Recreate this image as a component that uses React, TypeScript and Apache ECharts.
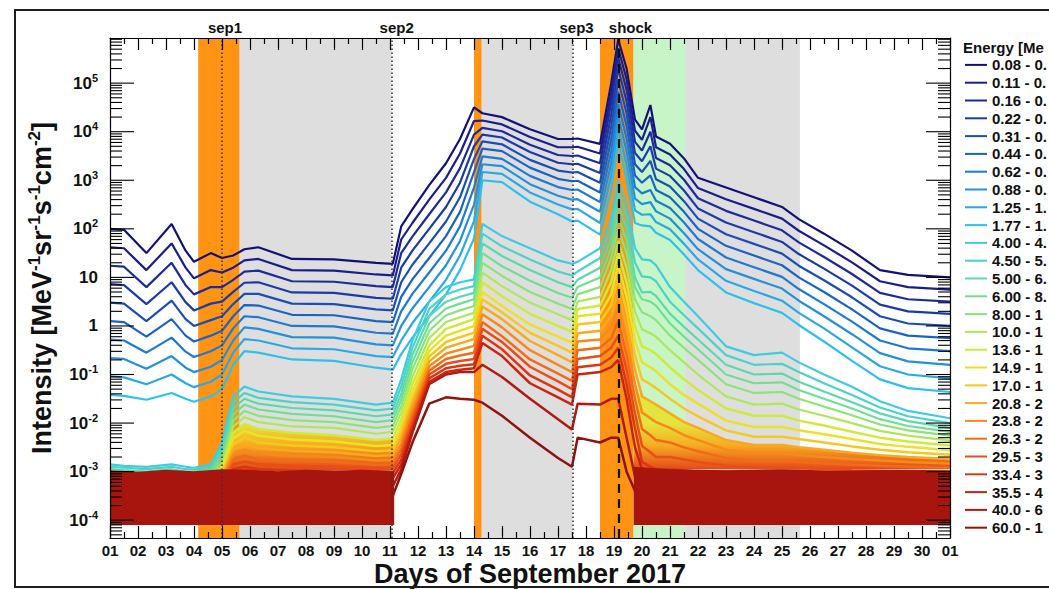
import React, { useEffect, useRef } from "react";
import * as echarts from "echarts";

const FONT = '"Liberation Sans", Arial, Helvetica, sans-serif';

// Time samples (day of September 2017)
const DAYS = [1.0, 1.5, 2.3, 3.2, 3.7, 4.0, 4.6, 5.0, 5.4, 5.8, 6.3, 7.5, 9.0, 10.5, 11.1, 11.4, 11.8, 12.4, 13.0, 13.5, 14.0, 14.3, 15.0, 16.0, 17.0, 17.5, 17.7, 18.5, 18.9, 19.15, 19.45, 19.75, 20.0, 20.3, 20.5, 21.0, 21.5, 22.0, 23.0, 24.0, 25.0, 25.6, 26.5, 27.5, 28.5, 29.5, 31.0];

// log10 of intensity [MeV^-1 sr^-1 s^-1 cm^-2]
const LOG_I_0_08 = [2.0, 1.98, 1.5, 2.1, 1.55, 1.32, 1.5, 1.4, 1.45, 1.58, 1.62, 1.38, 1.37, 1.3, 1.28, 2.05, 2.4, 2.9, 3.35, 3.85, 4.5, 4.38, 4.3, 4.05, 3.85, 3.85, 3.86, 3.75, 5.0, 5.9, 5.3, 4.25, 4.05, 4.55, 3.9, 3.75, 3.45, 3.05, 2.85, 2.65, 2.45, 2.2, 1.9, 1.55, 1.15, 1.05, 1.0];
const LOG_I_0_11 = [1.62, 1.6, 1.15, 1.7, 1.2, 0.98, 1.15, 1.1, 1.2, 1.35, 1.38, 1.15, 1.14, 1.06, 1.04, 1.78, 2.12, 2.6, 3.05, 3.55, 4.22, 4.23, 4.15, 3.89, 3.68, 3.68, 3.69, 3.55, 4.8, 5.72, 5.08, 4.02, 3.83, 4.3, 3.68, 3.53, 3.23, 2.84, 2.61, 2.41, 2.21, 1.96, 1.66, 1.31, 0.92, 0.8, 0.75];
const LOG_I_0_16 = [1.24, 1.22, 0.8, 1.3, 0.84, 0.65, 0.8, 0.8, 0.95, 1.12, 1.14, 0.92, 0.91, 0.82, 0.8, 1.5, 1.84, 2.3, 2.75, 3.25, 3.94, 4.08, 4.01, 3.73, 3.52, 3.5, 3.51, 3.35, 4.6, 5.52, 4.86, 3.79, 3.61, 4.0, 3.46, 3.31, 3.01, 2.63, 2.37, 2.17, 1.97, 1.72, 1.42, 1.07, 0.68, 0.55, 0.5];
const LOG_I_0_22 = [0.86, 0.84, 0.45, 0.9, 0.49, 0.32, 0.46, 0.5, 0.7, 0.89, 0.9, 0.69, 0.68, 0.58, 0.56, 1.2, 1.55, 2.0, 2.45, 2.95, 3.7, 3.94, 3.88, 3.58, 3.36, 3.33, 3.34, 3.15, 4.35, 5.3, 4.62, 3.56, 3.39, 3.7, 3.24, 3.09, 2.79, 2.42, 2.13, 1.93, 1.73, 1.48, 1.18, 0.83, 0.44, 0.3, 0.25];
const LOG_I_0_31 = [0.48, 0.46, 0.1, 0.52, 0.14, 0.0, 0.12, 0.2, 0.45, 0.66, 0.66, 0.46, 0.45, 0.34, 0.32, 0.9, 1.26, 1.7, 2.15, 2.65, 3.44, 3.8, 3.74, 3.42, 3.2, 3.16, 3.17, 2.95, 4.1, 5.06, 4.38, 3.33, 3.17, 3.4, 3.02, 2.87, 2.57, 2.21, 1.89, 1.69, 1.49, 1.24, 0.94, 0.59, 0.2, 0.05, 0.0];
const LOG_I_0_44 = [0.1, 0.08, -0.22, 0.14, -0.2, -0.32, -0.2, -0.1, 0.2, 0.43, 0.42, 0.23, 0.22, 0.1, 0.08, 0.6, 0.96, 1.4, 1.85, 2.35, 3.17, 3.65, 3.6, 3.26, 3.03, 2.98, 2.99, 2.75, 3.85, 4.82, 4.12, 3.1, 2.95, 3.1, 2.8, 2.65, 2.35, 2.0, 1.65, 1.45, 1.25, 1.0, 0.7, 0.34, -0.05, -0.2, -0.25];
const LOG_I_0_62 = [-0.28, -0.3, -0.55, -0.24, -0.53, -0.64, -0.52, -0.4, -0.05, 0.2, 0.18, 0.0, -0.01, -0.14, -0.16, 0.3, 0.66, 1.1, 1.55, 2.05, 2.85, 3.49, 3.44, 3.09, 2.86, 2.8, 2.81, 2.55, 3.6, 4.57, 3.86, 2.86, 2.73, 2.8, 2.58, 2.43, 2.13, 1.79, 1.41, 1.21, 1.01, 0.76, 0.45, 0.09, -0.3, -0.46, -0.52];
const LOG_I_0_88 = [-0.66, -0.68, -0.88, -0.62, -0.86, -0.95, -0.84, -0.7, -0.3, -0.03, -0.06, -0.23, -0.24, -0.38, -0.4, 0.0, 0.36, 0.8, 1.25, 1.75, 2.5, 3.33, 3.29, 2.92, 2.68, 2.6, 2.61, 2.35, 3.35, 4.32, 3.6, 2.62, 2.51, 2.55, 2.36, 2.21, 1.91, 1.58, 1.17, 0.97, 0.77, 0.52, 0.2, -0.17, -0.56, -0.73, -0.8];
const LOG_I_1_25 = [-1.04, -1.06, -1.2, -1.0, -1.18, -1.26, -1.15, -1.0, -0.55, -0.27, -0.3, -0.46, -0.48, -0.62, -0.64, -0.3, 0.06, 0.5, 0.95, 1.45, 2.16, 3.17, 3.13, 2.75, 2.5, 2.4, 2.41, 2.12, 3.1, 4.06, 3.32, 2.38, 2.29, 2.3, 2.14, 1.99, 1.69, 1.37, 0.93, 0.72, 0.52, 0.27, -0.05, -0.44, -0.83, -1.0, -1.08];
const LOG_I_1_77 = [-1.42, -1.44, -1.52, -1.38, -1.5, -1.56, -1.45, -1.3, -0.8, -0.52, -0.55, -0.69, -0.72, -0.86, -0.9, -0.58, -0.24, 0.2, 0.65, 1.15, 1.8, 3.0, 2.96, 2.56, 2.3, 2.15, 2.17, 1.88, 2.8, 3.8, 3.02, 2.12, 2.07, 2.05, 1.92, 1.77, 1.47, 1.15, 0.69, 0.47, 0.27, 0.02, -0.32, -0.72, -1.1, -1.28, -1.36];
const LOG_I_4_00 = [-2.85, -2.88, -2.9, -2.85, -2.9, -2.92, -2.85, -2.4, -1.45, -1.25, -1.35, -1.45, -1.5, -1.62, -1.58, -1.1, -0.3, 0.5, 0.8, 0.9, 0.96, 2.1, 1.85, 1.6, 1.35, 1.28, 1.32, 1.6, 2.2, 3.0, 2.5, 1.6, 1.37, 1.35, 1.25, 0.8, 0.5, 0.2, -0.42, -0.6, -0.55, -0.75, -1.0, -1.25, -1.55, -1.75, -1.9];
const LOG_I_4_50 = [-2.9, -2.92, -2.95, -2.9, -2.95, -2.96, -2.9, -2.5, -1.58, -1.38, -1.48, -1.57, -1.62, -1.74, -1.7, -1.25, -0.45, 0.35, 0.65, 0.75, 0.82, 1.9, 1.64, 1.37, 1.12, 1.04, 1.12, 1.4, 2.0, 2.75, 2.25, 1.3, 1.02, 1.0, 0.92, 0.5, 0.22, -0.05, -0.6, -0.8, -0.78, -0.95, -1.18, -1.42, -1.68, -1.86, -2.0];
const LOG_I_5_00 = [-2.95, -2.97, -3.0, -2.95, -3.0, -3.0, -2.95, -2.6, -1.7, -1.5, -1.6, -1.69, -1.74, -1.86, -1.82, -1.4, -0.6, 0.2, 0.5, 0.6, 0.68, 1.7, 1.44, 1.15, 0.9, 0.8, 0.95, 1.2, 1.8, 2.5, 2.0, 1.0, 0.69, 0.7, 0.62, 0.25, -0.02, -0.28, -0.8, -1.0, -0.98, -1.15, -1.35, -1.57, -1.8, -1.96, -2.1];
const LOG_I_6_00 = [-3.0, -3.02, -3.04, -3.0, -3.04, -3.04, -3.0, -2.7, -1.82, -1.62, -1.72, -1.81, -1.86, -1.98, -1.94, -1.52, -0.75, 0.05, 0.36, 0.46, 0.55, 1.5, 1.23, 0.93, 0.68, 0.58, 0.8, 1.0, 1.6, 2.25, 1.75, 0.8, 0.55, 0.5, 0.42, 0.05, -0.22, -0.48, -1.0, -1.18, -1.16, -1.32, -1.5, -1.7, -1.92, -2.06, -2.18];
const LOG_I_8_00 = [-3.05, -3.06, -3.08, -3.05, -3.08, -3.08, -3.05, -2.8, -1.95, -1.75, -1.85, -1.94, -1.98, -2.1, -2.06, -1.65, -0.9, -0.1, 0.22, 0.32, 0.41, 1.3, 1.03, 0.7, 0.46, 0.35, 0.65, 0.8, 1.4, 2.0, 1.5, 0.55, 0.28, 0.2, 0.12, -0.2, -0.45, -0.7, -1.2, -1.38, -1.36, -1.5, -1.66, -1.84, -2.03, -2.15, -2.26];
const LOG_I_10_0 = [-3.1, -3.1, -3.12, -3.1, -3.12, -3.12, -3.1, -2.88, -2.07, -1.88, -1.98, -2.07, -2.1, -2.22, -2.18, -1.78, -1.05, -0.25, 0.08, 0.18, 0.27, 1.1, 0.82, 0.48, 0.24, 0.12, 0.5, 0.6, 1.15, 1.75, 1.2, 0.3, -0.07, -0.15, -0.22, -0.5, -0.75, -1.0, -1.45, -1.62, -1.6, -1.72, -1.85, -2.0, -2.16, -2.26, -2.36];
const LOG_I_13_6 = [-3.15, -3.15, -3.16, -3.15, -3.16, -3.16, -3.15, -2.95, -2.2, -2.02, -2.12, -2.2, -2.25, -2.35, -2.32, -1.92, -1.2, -0.4, -0.06, 0.04, 0.14, 0.9, 0.61, 0.25, 0.0, -0.12, 0.35, 0.42, 0.9, 1.5, 0.9, 0.0, -0.42, -0.5, -0.58, -0.85, -1.1, -1.32, -1.7, -1.85, -1.85, -1.95, -2.05, -2.18, -2.3, -2.38, -2.46];
const LOG_I_14_9 = [-3.2, -3.2, -3.2, -3.2, -3.2, -3.2, -3.2, -3.0, -2.32, -2.16, -2.26, -2.34, -2.38, -2.47, -2.45, -2.05, -1.35, -0.52, -0.2, -0.1, 0.0, 0.7, 0.41, 0.03, -0.22, -0.35, 0.2, 0.25, 0.65, 1.25, 0.6, -0.3, -0.75, -0.85, -0.93, -1.2, -1.42, -1.6, -1.95, -2.08, -2.08, -2.15, -2.23, -2.33, -2.43, -2.49, -2.56];
const LOG_I_17_0 = [-3.25, -3.25, -3.25, -3.25, -3.25, -3.25, -3.25, -3.05, -2.44, -2.3, -2.4, -2.46, -2.5, -2.58, -2.56, -2.18, -1.5, -0.63, -0.33, -0.23, -0.14, 0.55, 0.28, -0.14, -0.41, -0.55, 0.03, 0.08, 0.42, 1.0, 0.3, -0.6, -1.1, -1.2, -1.28, -1.5, -1.7, -1.86, -2.15, -2.28, -2.28, -2.33, -2.4, -2.48, -2.55, -2.6, -2.65];
const LOG_I_20_8 = [-3.3, -3.3, -3.3, -3.3, -3.3, -3.3, -3.3, -3.1, -2.55, -2.43, -2.52, -2.57, -2.6, -2.68, -2.66, -2.3, -1.62, -0.73, -0.45, -0.36, -0.27, 0.4, 0.14, -0.31, -0.6, -0.75, -0.15, -0.1, 0.2, 0.7, 0.0, -0.9, -1.45, -1.55, -1.62, -1.8, -1.98, -2.1, -2.35, -2.45, -2.45, -2.5, -2.55, -2.61, -2.66, -2.7, -2.74];
const LOG_I_23_8 = [-3.35, -3.35, -3.35, -3.35, -3.35, -3.35, -3.35, -3.15, -2.65, -2.55, -2.63, -2.68, -2.7, -2.77, -2.76, -2.42, -1.74, -0.83, -0.57, -0.49, -0.41, 0.24, -0.03, -0.5, -0.8, -0.95, -0.32, -0.28, -0.02, 0.4, -0.3, -1.2, -1.78, -1.9, -1.98, -2.1, -2.25, -2.35, -2.55, -2.62, -2.62, -2.66, -2.7, -2.74, -2.77, -2.8, -2.83];
const LOG_I_26_3 = [-3.4, -3.4, -3.4, -3.4, -3.4, -3.4, -3.4, -3.2, -2.75, -2.67, -2.74, -2.78, -2.8, -2.86, -2.85, -2.53, -1.86, -0.92, -0.68, -0.61, -0.55, 0.08, -0.21, -0.69, -0.98, -1.13, -0.5, -0.45, -0.25, 0.1, -0.6, -1.5, -2.12, -2.25, -2.35, -2.4, -2.5, -2.58, -2.72, -2.78, -2.78, -2.8, -2.83, -2.86, -2.88, -2.9, -2.92];
const LOG_I_29_5 = [-3.45, -3.45, -3.45, -3.45, -3.45, -3.45, -3.45, -3.25, -2.85, -2.79, -2.85, -2.88, -2.9, -2.95, -2.94, -2.64, -1.97, -1.0, -0.78, -0.72, -0.68, -0.06, -0.33, -0.84, -1.14, -1.3, -0.68, -0.62, -0.45, -0.2, -0.9, -1.8, -2.47, -2.6, -2.7, -2.7, -2.75, -2.8, -2.88, -2.92, -2.92, -2.93, -2.95, -2.97, -2.98, -3.0, -3.01];
const LOG_I_33_4 = [-3.5, -3.5, -3.5, -3.5, -3.5, -3.5, -3.5, -3.3, -2.95, -2.9, -2.95, -2.98, -3.0, -3.03, -3.03, -2.75, -2.07, -1.08, -0.87, -0.82, -0.79, -0.2, -0.48, -1.02, -1.31, -1.47, -0.85, -0.8, -0.65, -0.45, -1.2, -2.1, -2.8, -2.9, -2.95, -2.95, -2.97, -3.0, -3.0, -3.03, -3.03, -3.05, -3.06, -3.07, -3.08, -3.09, -3.1];
const LOG_I_35_5 = [-3.55, -3.55, -3.55, -3.55, -3.55, -3.55, -3.55, -3.4, -3.1, -3.05, -3.08, -3.1, -3.12, -3.14, -3.14, -2.85, -2.15, -1.15, -0.95, -0.9, -0.87, -0.35, -0.62, -1.18, -1.47, -1.62, -1.0, -0.95, -0.85, -0.7, -1.5, -2.5, -2.95, -3.05, -3.1, -3.1, -3.1, -3.12, -3.15, -3.15, -3.15, -3.15, -3.16, -3.17, -3.18, -3.18, -3.18];
const LOG_I_40_0 = [-3.6, -3.6, -3.6, -3.6, -3.6, -3.6, -3.6, -3.5, -3.3, -3.3, -3.3, -3.3, -3.3, -3.3, -3.3, -2.95, -2.2, -1.2, -1.0, -0.95, -0.95, -0.8, -1.05, -1.5, -1.92, -2.13, -1.6, -1.62, -1.5, -1.5, -2.3, -3.1, -3.3, -3.3, -3.35, -3.35, -3.35, -3.35, -3.35, -3.35, -3.35, -3.35, -3.35, -3.35, -3.35, -3.35, -3.35];
const LOG_I_60_0 = [-3.65, -3.65, -3.65, -3.65, -3.65, -3.65, -3.65, -3.6, -3.5, -3.5, -3.5, -3.5, -3.5, -3.5, -3.5, -3.05, -2.4, -1.6, -1.47, -1.5, -1.52, -1.58, -1.85, -2.3, -2.72, -2.9, -2.3, -2.4, -2.3, -2.3, -3.0, -3.4, -3.5, -3.5, -3.5, -3.5, -3.5, -3.5, -3.5, -3.5, -3.5, -3.5, -3.5, -3.5, -3.5, -3.5, -3.5];

const CHANNEL_LABELS = ["0.08 - 0.10", "0.11 - 0.14", "0.16 - 0.19", "0.22 - 0.27", "0.31 - 0.38", "0.44 - 0.53", "0.62 - 0.75", "0.88 - 0.99", "1.25 - 1.50", "1.77 - 1.99", "4.00 - 4.50", "4.50 - 5.00", "5.00 - 6.00", "6.00 - 8.00", "8.00 - 10.0", "10.0 - 12.0", "13.6 - 15.1", "14.9 - 17.1", "17.0 - 19.0", "20.8 - 23.8", "23.8 - 26.4", "26.3 - 29.7", "29.5 - 33.4", "33.4 - 35.8", "35.5 - 40.5", "40.0 - 60.0", "60.0 - 100"];
const CHANNEL_VALUES = [LOG_I_0_08, LOG_I_0_11, LOG_I_0_16, LOG_I_0_22, LOG_I_0_31, LOG_I_0_44, LOG_I_0_62, LOG_I_0_88, LOG_I_1_25, LOG_I_1_77, LOG_I_4_00, LOG_I_4_50, LOG_I_5_00, LOG_I_6_00, LOG_I_8_00, LOG_I_10_0, LOG_I_13_6, LOG_I_14_9, LOG_I_17_0, LOG_I_20_8, LOG_I_23_8, LOG_I_26_3, LOG_I_29_5, LOG_I_33_4, LOG_I_35_5, LOG_I_40_0, LOG_I_60_0];
const CHANNEL_COLORS = ["#12117a", "#1a1d8c", "#1c2a9c", "#1a3aab", "#1a4dba", "#1b62c8", "#1f78d4", "#2390de", "#28a8e8", "#2ebfef", "#3fcbe0", "#4ad3c6", "#5bd9ad", "#6fdf93", "#8be478", "#aee85a", "#d0ea3a", "#ebe126", "#f6c71e", "#f9a91c", "#f88a1a", "#f26b18", "#ea4e16", "#dd3514", "#c82412", "#b01a10", "#8e120e"];

// counting-statistics noise floor of the highest channels (log10 limits)
const NOISE_A_DAYS = [1.0, 2.0, 3.0, 4.0, 5.0, 6.0, 7.0, 8.0, 9.0, 10.0, 11.15];
const NOISE_A_HI = [-2.97, -3.0, -2.96, -2.99, -2.95, -2.96, -2.99, -2.96, -2.98, -2.96, -2.98];
const NOISE_A_LO = [-4.1, -4.1, -4.1, -4.1, -4.1, -4.1, -4.1, -4.1, -4.1, -4.1, -4.1];
const NOISE_B_DAYS = [19.7, 21.0, 23.0, 25.0, 27.0, 29.0, 31.0];
const NOISE_B_HI = [-2.9, -2.95, -2.97, -2.95, -2.98, -2.96, -2.97];
const NOISE_B_LO = [-4.1, -4.1, -4.1, -4.1, -4.1, -4.1, -4.1];

// upper edge (log10) of the scattered, noisy high-energy channels above the floor
const SPREAD_A_DAYS = [5.05, 5.4, 5.8, 6.3, 7.5, 9.0, 10.5, 11.12];
const SPREAD_A_HI = [-2.95, -2.2, -2.02, -2.12, -2.2, -2.25, -2.35, -2.32];
const SPREAD_B_DAYS = [19.7, 20.0, 20.5, 21.0, 22.0, 23.0, 24.0, 25.0, 26.5, 28.5, 31.0];
const SPREAD_B_HI = [-1.3, -1.45, -1.62, -1.8, -2.1, -2.35, -2.45, -2.45, -2.55, -2.66, -2.74];

// shaded intervals (days)
const GRAY_SPANS = [[5.62, 11.06], [14.27, 17.52], [21.54, 25.64]];
const GREEN_SPANS = [[19.69, 21.54]];
const ORANGE_SPANS = [[4.15, 5.62], [14.0, 14.27], [18.5, 19.69]];

const EVENT_NAMES = ["sep1", "sep2", "sep3", "shock"];
const EVENT_DAYS = [5.0, 11.06, 17.52, 19.16];
const EVENT_LABEL_SHIFT = [3, 5, 4, 12];

const Y_MIN = 4.3e-5;
const Y_MAX = 8.5e5;

function yTickList() {
  const out = [];
  for (let e = -5; e <= 5; e++) {
    for (let m = 1; m <= 9; m++) {
      const v = m * Math.pow(10, e);
      if (v >= Y_MIN && v <= Y_MAX) out.push([1, v, m === 1 ? 1 : 0]);
    }
  }
  return out;
}

function yLabel(v) {
  const e = Math.round(Math.log10(v));
  if (e === 0) return "{b|1}";
  if (e === 1) return "{b|10}";
  return "{b|10}{s|" + e + "}";
}

// the legend is cut by the right edge of the figure: show the part that fits
function legendVisible(name) {
  const s = name.slice(0, 9);
  return /\d$/.test(s) ? s.slice(0, 8) : s;
}

function bandPolygon(api, days, hi, lo, fill) {
  const top = days.map((d, k) => api.coord([d, Math.pow(10, hi[k])]));
  const bot = days.map((d, k) => api.coord([d, Math.pow(10, Array.isArray(lo) ? lo[k] : lo)])).reverse();
  return { type: "polygon", shape: { points: top.concat(bot) }, style: { fill } };
}

function buildOption() {
  const lineSeries = CHANNEL_LABELS.map((label, i) => ({
    type: "line",
    name: label,
    data: DAYS.map((d, j) => [d, Math.pow(10, CHANNEL_VALUES[i][j])]),
    showSymbol: false,
    symbol: "none",
    lineStyle: { width: i >= 16 ? 2.5 : 2.2, color: CHANNEL_COLORS[i] },
    itemStyle: { color: CHANNEL_COLORS[i] },
    z: 2,
    silent: true,
  }));

  const shading = {
    type: "line",
    name: "shading",
    data: [],
    z: 1,
    silent: true,
    markArea: {
      silent: true,
      data: [
        ...GRAY_SPANS.map((s) => [{ xAxis: s[0], itemStyle: { color: "#dedede" } }, { xAxis: s[1] }]),
        ...GREEN_SPANS.map((s) => [{ xAxis: s[0], itemStyle: { color: "#c8f5c8" } }, { xAxis: s[1] }]),
        ...ORANGE_SPANS.map((s) => [{ xAxis: s[0], itemStyle: { color: "#ff9414" } }, { xAxis: s[1] }]),
      ],
    },
  };

  const spread = {
    type: "custom",
    name: "spread",
    data: [[1, 1e-3]],
    z: 2,
    silent: true,
    renderItem: (params, api) => {
      const yTop = api.coord([1, 1e-2])[1];
      const yBot = api.coord([1, 1e-3])[1];
      const grad = new echarts.graphic.LinearGradient(
        0, yTop, 0, yBot,
        [
          { offset: 0, color: "#e4e43e" },
          { offset: 0.45, color: "#f6ad22" },
          { offset: 1, color: "#e0401a" },
        ],
        true
      );
      return {
        type: "group",
        children: [
          bandPolygon(api, SPREAD_A_DAYS, SPREAD_A_HI, -2.97, grad),
          bandPolygon(api, SPREAD_B_DAYS, SPREAD_B_HI, -2.95, grad),
        ],
      };
    },
  };

  const events = {
    type: "line",
    name: "events",
    data: [],
    z: 5,
    silent: true,
    markLine: {
      silent: true,
      symbol: ["none", "none"],
      label: {
        show: true,
        position: "end",
        distance: 3,
        fontFamily: FONT,
        fontWeight: "bold",
        fontSize: 15,
        color: "#111",
      },
      data: EVENT_NAMES.map((n, i) => ({
        xAxis: EVENT_DAYS[i],
        label: { formatter: n, offset: [EVENT_LABEL_SHIFT[i], 0] },
        lineStyle:
          n === "shock"
            ? { color: "#111", width: 2.2, type: [9, 6] }
            : { color: "#333", width: 1.5, type: [1.5, 2.5] },
      })),
    },
  };

  const noise = {
    type: "custom",
    name: "noise",
    data: [[1, 1e-3]],
    z: 3,
    silent: true,
    renderItem: (params, api) => ({
      type: "group",
      children: [
        bandPolygon(api, NOISE_A_DAYS, NOISE_A_HI, NOISE_A_LO, "#a8150f"),
        bandPolygon(api, NOISE_B_DAYS, NOISE_B_HI, NOISE_B_LO, "#a8150f"),
      ],
    }),
  };

  const yTicks = {
    type: "custom",
    name: "yticks",
    data: yTickList(),
    z: 11,
    silent: true,
    renderItem: (params, api) => {
      const v = api.value(1);
      const major = api.value(2) === 1;
      const cs = params.coordSys;
      const y = api.coord([1, v])[1];
      const len = major ? 24 : 12;
      const kids = [
        { type: "line", shape: { x1: cs.x, y1: y, x2: cs.x + len, y2: y }, style: { stroke: "#000", lineWidth: 1.1 } },
        { type: "line", shape: { x1: cs.x + cs.width - len, y1: y, x2: cs.x + cs.width, y2: y }, style: { stroke: "#000", lineWidth: 1.1 } },
      ];
      if (major) {
        kids.push({
          type: "text",
          x: cs.x - 12,
          y: y,
          style: {
            text: yLabel(v),
            align: "right",
            verticalAlign: "middle",
            fill: "#111",
            rich: {
              b: { fontFamily: FONT, fontWeight: "bold", fontSize: 17, lineHeight: 22, fill: "#111" },
              s: { fontFamily: FONT, fontWeight: "bold", fontSize: 11, verticalAlign: "top", fill: "#111" },
            },
          },
        });
      }
      return { type: "group", children: kids };
    },
  };

  const axisLineStyle = { color: "#000", width: 1.2 };
  const xBase = {
    type: "value",
    min: 1,
    max: 31,
    interval: 1,
    z: 10,
    axisLine: { show: true, onZero: false, lineStyle: axisLineStyle },
    axisTick: { show: true, inside: true, length: 12, lineStyle: axisLineStyle },
    minorTick: { show: true, splitNumber: 2, length: 6, lineStyle: axisLineStyle },
    splitLine: { show: false },
    minorSplitLine: { show: false },
  };
  const yBase = {
    type: "log",
    logBase: 10,
    min: Y_MIN,
    max: Y_MAX,
    z: 10,
    axisLine: { show: true, onZero: false, lineStyle: axisLineStyle },
    axisTick: { show: false },
    axisLabel: { show: false },
    splitLine: { show: false },
    minorTick: { show: false },
  };

  return {
    animation: false,
    backgroundColor: "#fff",
    grid: { left: 110, right: 99, top: 38, bottom: 51, containLabel: false, outerBoundsMode: "none" },
    legend: {
      orient: "vertical",
      left: 960,
      top: 51,
      itemWidth: 22,
      itemHeight: 2,
      itemGap: 0,
      icon: "rect",
      selectedMode: false,
      data: CHANNEL_LABELS,
      formatter: legendVisible,
      textStyle: {
        fontFamily: FONT,
        fontWeight: "bold",
        fontSize: 15,
        color: "#111",
        lineHeight: 17.8,
      },
    },
    xAxis: [
      {
        ...xBase,
        position: "bottom",
        axisLabel: {
          show: true,
          margin: 5,
          showMinLabel: true,
          showMaxLabel: true,
          fontFamily: FONT,
          fontWeight: "bold",
          fontSize: 15,
          color: "#111",
          formatter: (v) => {
            const d = Math.round(v);
            return d === 31 ? "01" : String(d).padStart(2, "0");
          },
        },
        name: "Days of September 2017",
        nameLocation: "middle",
        nameGap: 22,
        nameMoveOverlap: false,
        nameTextStyle: { fontFamily: FONT, fontWeight: "bold", fontSize: 27, lineHeight: 28, color: "#111" },
      },
      { ...xBase, position: "top", axisLabel: { show: false } },
    ],
    yAxis: [
      {
        ...yBase,
        position: "left",
        name: "{a|Intensity [MeV}{s|-1}{a|sr}{s|-1}{a|s}{s|-1}{a|cm}{s|-2}{a|]}",
        nameLocation: "middle",
        nameRotate: 90,
        nameGap: 52,
        nameMoveOverlap: false,
        nameTextStyle: {
          fontFamily: FONT,
          fontWeight: "bold",
          fontSize: 27,
          color: "#111",
          rich: {
            a: { fontFamily: FONT, fontWeight: "bold", fontSize: 27, lineHeight: 32, color: "#111" },
            s: { fontFamily: FONT, fontWeight: "bold", fontSize: 17, verticalAlign: "top", color: "#111" },
          },
        },
      },
      { ...yBase, position: "right" },
    ],
    graphic: [
      {
        type: "rect",
        shape: { x: 15, y: 10, width: 1100, height: 577 },
        style: { fill: "none", stroke: "#1e1e1e", lineWidth: 2 },
        silent: true,
        z: 100,
      },
      {
        type: "text",
        x: 963,
        y: 40,
        style: {
          text: "Energy [MeV]",
          font: `bold 15px ${FONT}`,
          fill: "#111",
          width: 84,
          overflow: "truncate",
          ellipsis: "",
        },
        silent: true,
      },
    ],
    series: [shading, spread, ...lineSeries, noise, events, yTicks],
  };
}

export default function App() {
  const ref = useRef<HTMLDivElement>(null);
  useEffect(() => {
    document.body.style.margin = "0";
    const chart = echarts.init(ref.current as HTMLDivElement, null, { renderer: "svg" });
    chart.setOption(buildOption());
    return () => chart.dispose();
  }, []);
  return <div ref={ref} style={{ width: 1049, height: 589, position: "absolute", left: 0, top: 0 }} />;
}
